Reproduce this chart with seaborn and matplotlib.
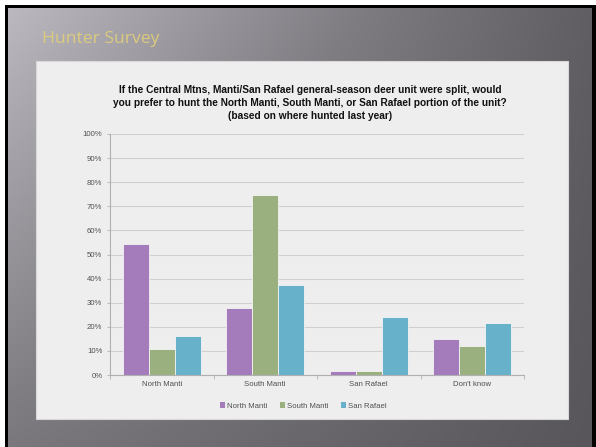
import numpy as np
import pandas as pd
import matplotlib
matplotlib.use("Agg")
import matplotlib.pyplot as plt
import seaborn as sns
from matplotlib.patches import Rectangle

categories = ["North Manti", "South Manti", "San Rafael", "Don't know"]
series_names = ["North Manti", "South Manti", "San Rafael"]
north_manti = [54.5, 27.9, 1.8, 14.8]
south_manti = [10.6, 74.8, 1.8, 11.9]
san_rafael = [16.3, 37.2, 24.1, 21.6]
y_ticks = [0, 10, 20, 30, 40, 50, 60, 70, 80, 90, 100]
colors = ["#a47bbb", "#9bb07f", "#68b1cb"]

title = ("If the Central Mtns, Manti/San Rafael general-season deer unit were split, would\n"
         "you prefer to hunt the North Manti, South Manti, or San Rafael portion of the unit?\n"
         "(based on where hunted last year)")
slide_title = "Hunter Survey"

rows = []
for name, vals in zip(series_names, [north_manti, south_manti, san_rafael]):
    for c, v in zip(categories, vals):
        rows.append({"category": c, "series": name, "value": v})
df = pd.DataFrame(rows)

sns.set_theme(style="white")
plt.rcParams["font.family"] = ["Liberation Sans", "DejaVu Sans"]

W, H = 596, 447
fig = plt.figure(figsize=(W / 100, H / 100), dpi=100)
fig.patch.set_facecolor("white")

def fx(px):
    return px / W

def fy(py):
    return 1 - py / H

# background layers
bg = fig.add_axes([0, 0, 1, 1], zorder=-10)
bg.axis("off")
bg.add_patch(Rectangle((5, 5), W - 5, H - 5, facecolor="black", edgecolor="none", zorder=1))
# gradient slide
nx, ny = 300, 230
xs = np.linspace(0, 1, nx)[None, :]
ys = np.linspace(0, 1, ny)[:, None]
tl = np.array([172, 170, 176]) / 255
tr = np.array([96, 94, 99]) / 255
bl = np.array([122, 120, 125]) / 255
br = np.array([88, 86, 91]) / 255
img = ((1 - xs)[..., None] * (1 - ys)[..., None] * tl + xs[..., None] * (1 - ys)[..., None] * tr
       + (1 - xs)[..., None] * ys[..., None] * bl + xs[..., None] * ys[..., None] * br)
sheen = np.clip(1 - (xs * 1.6 + ys * 1.1), 0, 1)[..., None] * 0.06
img = np.clip(img + sheen, 0, 1)
bg.imshow(img, extent=(8, 592, H, 8), aspect="auto", interpolation="bilinear", zorder=2)
bg.add_patch(Rectangle((36, 61), 532, 358, facecolor="#eeeeee", edgecolor="#d8d8d8",
                       lw=0.8, zorder=3))
bg.set_xlim(0, W)
bg.set_ylim(H, 0)

fig.text(fx(42), fy(39), slide_title, fontsize=12.6, color="#dccb7e",
         family=["Open Sans", "DejaVu Sans"], va="center", ha="left")

ax = fig.add_axes([fx(110), fy(375), fx(524) - fx(110), (375 - 134) / H])
ax.set_facecolor("none")
sns.barplot(data=df, x="category", y="value", hue="series", order=categories,
            hue_order=series_names, palette=colors, width=0.75, ax=ax,
            edgecolor="#f4f4f4", linewidth=0.6, saturation=1, errorbar=None)
ax.set_ylim(0, 100)
ax.set_xlim(-0.5, 3.5)
ax.set_yticks(y_ticks)
ax.set_yticklabels([f"{t}%" for t in y_ticks])
ax.yaxis.grid(True, color="#d0d0d0", lw=0.8)
ax.set_axisbelow(True)
ax.set_xlabel("")
ax.set_ylabel("")
for s in ["top", "right"]:
    ax.spines[s].set_visible(False)
for s in ["left", "bottom"]:
    ax.spines[s].set_color("#b0b0b0")
    ax.spines[s].set_linewidth(0.8)
ax.tick_params(axis="y", labelsize=5.6, labelcolor="#505050", length=2.5, width=0.6,
               color="#b0b0b0", pad=3, left=True)
ax.tick_params(axis="x", which="major", labelsize=5.6, labelcolor="#505050", length=0, pad=4)
ax.set_xticks([-0.5, 0.5, 1.5, 2.5, 3.5], minor=True)
ax.tick_params(axis="x", which="minor", length=3, width=0.6, color="#b0b0b0", bottom=True)
ax.get_legend().remove()

fig.text(fx(310), fy(103), title, fontsize=7.3, fontweight="bold", color="#111111",
         ha="center", va="center", multialignment="center", linespacing=1.4)

handles = [Rectangle((0, 0), 1, 1, facecolor=c, edgecolor="none") for c in colors]
fig.legend(handles, series_names, loc="center", bbox_to_anchor=(fx(303), fy(406)), ncol=3,
           frameon=False, fontsize=5.6, labelcolor="#505050", handlelength=0.7,
           handleheight=0.7, handletextpad=0.2, columnspacing=1.6)

fig.savefig("out.png", dpi=100)
